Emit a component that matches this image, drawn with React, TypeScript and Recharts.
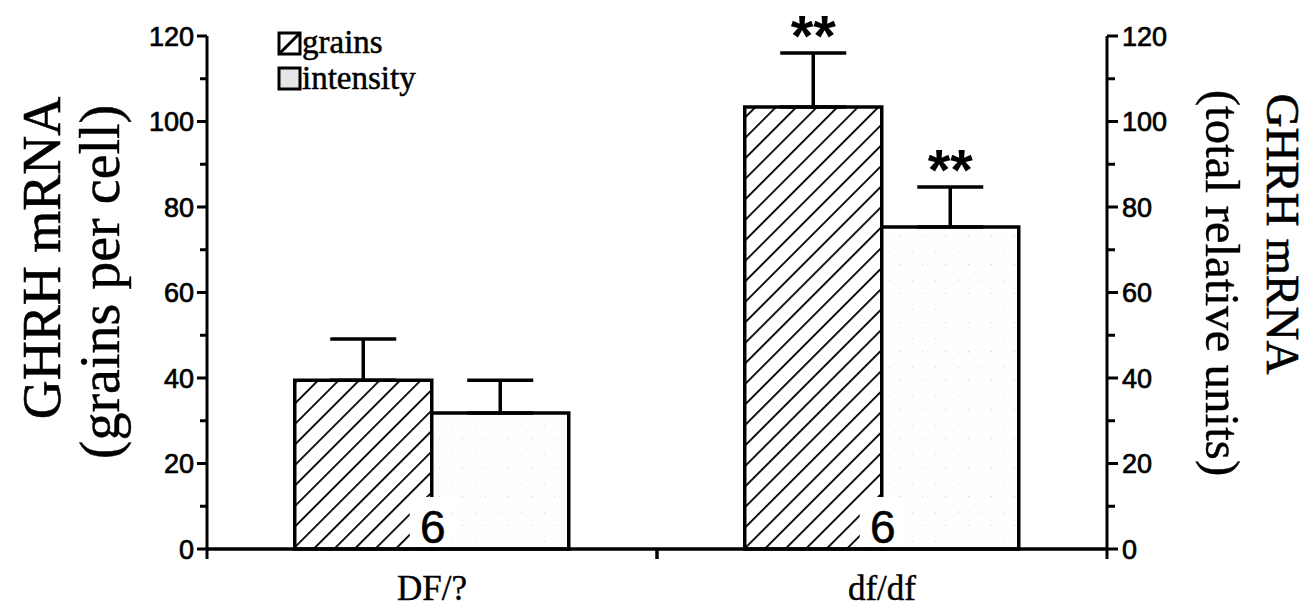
import { BarChart, Bar, XAxis, YAxis, ErrorBar } from "recharts";

const categories = ["DF/?", "df/df"];
const grains = [39.5, 103.4];
const grainsErr = [9.6, 12.6];
const intensity = [31.8, 75.3];
const intensityErr = [7.7, 9.4];
const cellCounts = [6, 6];
const grainsSig = ["", "**"];
const intensitySig = ["", "**"];
const yTicks = [0, 10, 20, 30, 40, 50, 60, 70, 80, 90, 100, 110, 120];

const SERIF = "'Liberation Serif', 'Times New Roman', serif";
const SANS = "'Liberation Sans', Arial, sans-serif";

const data = categories.map((name, i) => ({
  name,
  grains: grains[i],
  grainsErr: [0, grainsErr[i]],
  intensity: intensity[i],
  intensityErr: [0, intensityErr[i]],
}));

const LeftTick = (props: any) => {
  const { x, y, payload } = props;
  const major = payload.value % 20 === 0;
  return (
    <g>
      <line x1={x} x2={x - (major ? 10 : 7)} y1={y} y2={y} stroke="#000" strokeWidth={3} />
      {major && (
        <text x={x - 13} y={y} dy="0.36em" textAnchor="end" fontFamily={SANS} fontSize={27} fill="#000" stroke="#000" strokeWidth={0.7}>
          {payload.value}
        </text>
      )}
    </g>
  );
};

const RightTick = (props: any) => {
  const { x, y, payload } = props;
  const major = payload.value % 20 === 0;
  return (
    <g>
      <line x1={x} x2={x + (major ? 11 : 8)} y1={y} y2={y} stroke="#000" strokeWidth={3} />
      {major && (
        <text x={x + 15} y={y} dy="0.36em" textAnchor="start" fontFamily={SANS} fontSize={27} fill="#000" stroke="#000" strokeWidth={0.7}>
          {payload.value}
        </text>
      )}
    </g>
  );
};

// category label plus the small downward marks at the band edges
const CategoryTick = (props: any) => {
  const { x, y, payload } = props;
  const half = payload.offset ?? 225;
  return (
    <g>
      <line x1={x - half} x2={x - half} y1={y} y2={y + 10} stroke="#000" strokeWidth={3} />
      <line x1={x + half} x2={x + half} y1={y} y2={y + 10} stroke="#000" strokeWidth={3} />
      <text x={x} y={y + 51} textAnchor="middle" fontFamily={SERIF} fontSize={35} fill="#000" stroke="#000" strokeWidth={0.4}>
        {payload.value}
      </text>
    </g>
  );
};

// stars above the error bar cap
const sigLabel = (values: number[], errs: number[], sig: string[]) => (p: any) => {
  const { x, y, width, height, index } = p;
  if (!sig[index]) return null;
  const perUnit = height / values[index];
  const capY = y - errs[index] * perUnit;
  return (
    <text x={x + width / 2} y={capY + 3} textAnchor="middle" fontFamily={SANS} fontWeight="bold" fontSize={58} fill="#000">
      {sig[index]}
    </text>
  );
};

// n label sits on the boundary between the two bars, with a white patch behind
const countLabel = (p: any) => {
  const { x, y, height, index } = p;
  const bottom = y + height;
  return (
    <g>
      <rect x={x - 22} y={bottom - 52} width={42} height={50} fill="#fff" />
      <text x={x + 1} y={bottom - 6} textAnchor="middle" fontFamily={SANS} fontSize={46} fill="#000" stroke="#000" strokeWidth={0.6}>
        {cellCounts[index]}
      </text>
    </g>
  );
};

export default function App() {
  return (
    <div style={{ position: "absolute", left: 0, top: 0, background: "#fff" }}>
      <BarChart
        width={1310}
        height={614}
        data={data}
        margin={{ top: 36, right: 0, bottom: 0, left: 0 }}
        barCategoryGap="19.5%"
        barGap={0}
      >
        <defs>
          <pattern id="hatch" width={14.5} height={14.5} patternUnits="userSpaceOnUse" patternTransform="rotate(45)">
            <rect width={14.5} height={14.5} fill="#fff" />
            <line x1={0} y1={0} x2={0} y2={14.5} stroke="#000" strokeWidth={3.6} />
          </pattern>
          <pattern id="speckle" width={23} height={29} patternUnits="userSpaceOnUse">
            <rect width={23} height={29} fill="#fefefe" />
            <rect x={2} y={3} width={1} height={1} fill="#cfcfcf" />
            <rect x={15} y={19} width={1} height={1} fill="#d8d8d8" />
            <rect x={9} y={11} width={1} height={1} fill="#e0e0e0" />
          </pattern>
        </defs>
        <XAxis
          dataKey="name"
          height={65}
          axisLine={{ stroke: "#000", strokeWidth: 3.5 }}
          tickLine={false}
          tickSize={0}
          tickMargin={0}
          tick={<CategoryTick />}
        />
        <YAxis
          yAxisId="left"
          orientation="left"
          width={207}
          domain={[0, 120]}
          ticks={yTicks}
          interval={0}
          axisLine={{ stroke: "#000", strokeWidth: 3 }}
          tickLine={false}
          tickSize={0}
          tickMargin={0}
          tick={<LeftTick />}
        />
        <YAxis
          yAxisId="right"
          orientation="right"
          width={203}
          domain={[0, 120]}
          ticks={yTicks}
          interval={0}
          axisLine={{ stroke: "#000", strokeWidth: 3 }}
          tickLine={false}
          tickSize={0}
          tickMargin={0}
          tick={<RightTick />}
        />
        <Bar
          yAxisId="left"
          dataKey="grains"
          name="grains"
          fill="url(#hatch)"
          stroke="#000"
          strokeWidth={3.5}
          isAnimationActive={false}
          label={sigLabel(grains, grainsErr, grainsSig)}
        >
          <ErrorBar dataKey="grainsErr" width={33} stroke="#000" strokeWidth={3.5} />
        </Bar>
        <Bar
          yAxisId="right"
          dataKey="intensity"
          name="intensity"
          fill="url(#speckle)"
          stroke="#000"
          strokeWidth={3.5}
          isAnimationActive={false}
          label={(p: any) => (
            <g>
              {countLabel(p)}
              {sigLabel(intensity, intensityErr, intensitySig)(p)}
            </g>
          )}
        >
          <ErrorBar dataKey="intensityErr" width={33} stroke="#000" strokeWidth={3.5} />
        </Bar>
        {/* legend */}
        <g fontFamily={SERIF} fontSize={33} fill="#000">
          <rect x={279} y={33} width={21} height={21} fill="#fff" stroke="#000" strokeWidth={3} />
          <line x1={280} y1={53} x2={299} y2={34} stroke="#000" strokeWidth={3} />
          <text x={302} y={53} stroke="#000" strokeWidth={0.5}>grains</text>
          <rect x={279} y={68} width={21} height={21} fill="#e6e6e6" stroke="#000" strokeWidth={3} />
          <text x={302} y={89} stroke="#000" strokeWidth={0.5}>intensity</text>
        </g>
        <text transform="translate(42,258) rotate(-90)" textAnchor="middle" dominantBaseline="central" fontFamily={SERIF} fontSize={54} fill="#000" stroke="#000" strokeWidth={0.6}>
          GHRH mRNA
        </text>
        <text transform="translate(100,282) rotate(-90)" textAnchor="middle" dominantBaseline="central" fontFamily={SERIF} fontSize={56} fill="#000" stroke="#000" strokeWidth={0.4}>
          (grains per cell)
        </text>
        <text transform="translate(1222,283) rotate(90)" textAnchor="middle" dominantBaseline="central" fontFamily={SERIF} fontSize={49} fill="#000" stroke="#000" strokeWidth={0.4}>
          (total relative units)
        </text>
        <text transform="translate(1283,234) rotate(90)" textAnchor="middle" dominantBaseline="central" fontFamily={SERIF} fontSize={47} fill="#000" stroke="#000" strokeWidth={0.6}>
          GHRH mRNA
        </text>
      </BarChart>
    </div>
  );
}
